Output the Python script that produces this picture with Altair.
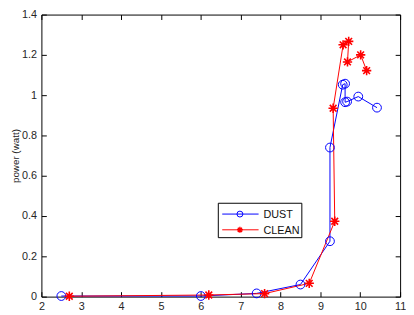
import altair as alt
import pandas as pd

series_names = ["DUST", "CLEAN"]
series_colors = ["#0000ff", "#ff0000"]

dust_x = [2.5, 6.0, 7.4, 8.5, 9.24, 9.24, 9.56, 9.62, 9.62, 9.67, 9.95, 10.42]
dust_y = [0.003, 0.003, 0.016, 0.06, 0.275, 0.74, 1.052, 1.057, 0.965, 0.968, 0.993, 0.938]

clean_x = [2.7, 6.2, 7.6, 8.72, 9.36, 9.32, 9.57, 9.71, 9.68, 10.01, 10.16]
clean_y = [0.002, 0.008, 0.015, 0.066, 0.374, 0.935, 1.25, 1.267, 1.165, 1.2, 1.122]

x_ticks = [2, 3, 4, 5, 6, 7, 8, 9, 10, 11]
y_ticks = [0, 0.2, 0.4, 0.6, 0.8, 1, 1.2, 1.4]
y_title = "power (watt)"

rows = []
for name, xs_, ys_ in [("DUST", dust_x, dust_y), ("CLEAN", clean_x, clean_y)]:
    for i, (xv, yv) in enumerate(zip(xs_, ys_)):
        rows.append({"series": name, "x": xv, "y": yv, "idx": i})
df = pd.DataFrame(rows)

STAR = "M-1,0L1,0M0,-1L0,1M-0.72,-0.72L0.72,0.72M-0.72,0.72L0.72,-0.72"
FONT = "Liberation Sans"
LBL = "#262626"

color_enc = alt.Color("series:N", scale=alt.Scale(domain=series_names, range=series_colors), legend=None)
shape_enc = alt.Shape("series:N", scale=alt.Scale(domain=series_names, range=["circle", STAR]), legend=None)
xs = alt.Scale(domain=[2, 11], nice=False, zero=False)
ys = alt.Scale(domain=[0, 1.4], nice=False, zero=False)

x_axis = alt.Axis(values=x_ticks, orient="bottom", offset=-5, tickSize=5, labelPadding=4,
                  domain=False, grid=False, labelFontSize=11, labelColor=LBL, tickColor="#000",
                  labelFlush=False, labelOverlap=False, title=None, labelFont=FONT, format="~g")
y_axis = alt.Axis(values=y_ticks, orient="left", offset=-5, tickSize=5, labelPadding=5,
                  domain=False, grid=False, labelFontSize=11, labelColor=LBL, tickColor="#000",
                  labelOverlap=False, title=y_title, titleFontSize=10, titleFontWeight="normal",
                  titleColor=LBL, titlePadding=1, titleFont=FONT, labelFont=FONT, format="~g")
x_axis_top = alt.Axis(values=x_ticks, orient="top", offset=-5, tickSize=5, labels=False,
                      domain=False, grid=False, tickColor="#000", title=None)
y_axis_right = alt.Axis(values=y_ticks, orient="right", offset=-5, tickSize=5, labels=False,
                        domain=False, grid=False, tickColor="#000", title=None)

base = alt.Chart(df)

lines = base.mark_line(strokeWidth=1).encode(
    x=alt.X("x:Q", scale=xs, axis=x_axis),
    y=alt.Y("y:Q", scale=ys, axis=y_axis),
    color=color_enc,
    detail="series:N",
    order=alt.Order("idx:Q"),
)

points_dust = base.transform_filter(alt.datum.series == "DUST").mark_point(
    filled=False, size=80, strokeWidth=1, opacity=1).encode(
    x=alt.X("x:Q", scale=xs, axis=None),
    y=alt.Y("y:Q", scale=ys, axis=None),
    color=color_enc,
    shape=shape_enc,
)
points_clean = base.transform_filter(alt.datum.series == "CLEAN").mark_point(
    filled=False, size=90, strokeWidth=1.6, opacity=1).encode(
    x=alt.X("x:Q", scale=xs, axis=None),
    y=alt.Y("y:Q", scale=ys, axis=None),
    color=color_enc,
    shape=shape_enc,
)

frame_axes = base.mark_point(opacity=0).encode(
    x=alt.X("x:Q", scale=xs, axis=x_axis_top),
    y=alt.Y("y:Q", scale=ys, axis=y_axis_right),
)

# manual legend (MATLAB style box)
leg_box = alt.Chart(pd.DataFrame({"a": [0]})).mark_rect(
    fill="white", stroke="black", strokeWidth=1
).encode(x=alt.value(180), x2=alt.value(265), y=alt.value(192), y2=alt.value(227))

legend_layers = [leg_box]
for i, name in enumerate(series_names):
    ldf = pd.DataFrame({"series": [name]})
    yy = 203 + 16 * i
    legend_layers.append(
        alt.Chart(ldf).mark_rule(strokeWidth=1).encode(
            x=alt.value(184), x2=alt.value(221), y=alt.value(yy), color=color_enc)
    )
    legend_layers.append(
        alt.Chart(ldf).mark_point(filled=False, size=36, strokeWidth=1 + 0.4 * i, opacity=1).encode(
            x=alt.value(202), y=alt.value(yy), color=color_enc, shape=shape_enc)
    )
    legend_layers.append(
        alt.Chart(ldf).mark_text(align="left", baseline="middle", fontSize=11, font=FONT,
                                 color="#111").encode(
            x=alt.value(226), y=alt.value(yy + 1), text="series:N")
    )

chart = alt.layer(lines, points_dust, points_clean, frame_axes, *legend_layers).resolve_axis(
    x="independent", y="independent"
).properties(
    width=365, height=287,
    padding={"left": 34, "top": 4, "right": 6, "bottom": 16},
    autosize=alt.AutoSizeParams(type="none"),
    background="white",
).configure_view(stroke="black", strokeWidth=1)

chart.save("out.html", embed_options={"renderer": "svg", "actions": False})
